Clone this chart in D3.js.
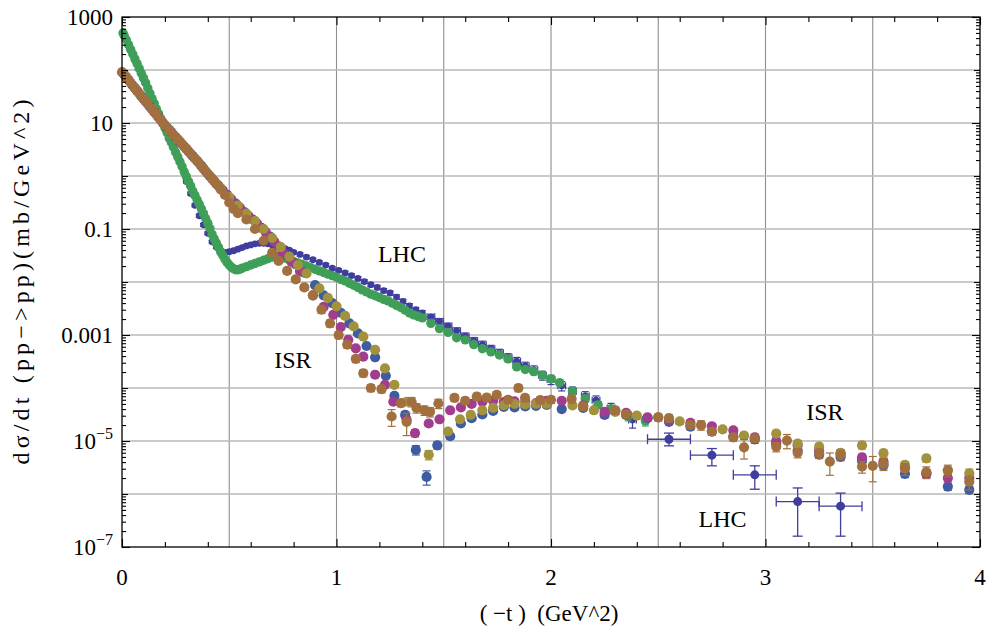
<!DOCTYPE html>
<html>
<head>
<meta charset="utf-8">
<script src="https://cdn.jsdelivr.net/npm/d3@7"></script>
<style>
  body { margin: 0; background: #fff; }
  svg { display: block; }
  text { font-family: "Liberation Serif", "Times New Roman", serif; fill: #000; }
</style>
</head>
<body>
<svg id="chart" width="987" height="628"></svg>
<script>
// ---- axes ----
const X_DOMAIN = [0, 4];
const Y_DOMAIN = [1e-7, 1e3];
const X_MAJOR = [0, 1, 2, 3, 4];
const X_LABELS = ["0", "1", "2", "3", "4"];
const X_MINOR = [0.2, 0.4, 0.6, 0.8, 1.2, 1.4, 1.6, 1.8, 2.2, 2.4, 2.6, 2.8, 3.2, 3.4, 3.6, 3.8];
const X_GRID = [0.5, 1, 1.5, 2, 2.5, 3, 3.5];
const Y_MAJOR = [1e3, 10, 0.1, 1e-3, 1e-5, 1e-7];
const Y_LABELS = [["1000"], ["10"], ["0.1"], ["0.001"], ["10", "\u22125"], ["10", "\u22127"]];
const Y_DECADES = [1e-6, 1e-4, 1e-2, 1, 100];
const Y_GRID = [1e-6, 1e-5, 1e-4, 1e-3, 1e-2, 0.1, 1, 10, 100];
const X_TITLE = "( \u2212t )  (GeV^2)";
const Y_TITLE = "d\u03c3/dt (pp\u2212>pp)(mb/GeV^2)";

// ---- LHC (TOTEM) : [ -t , dσ/dt , relative error ] ----
const LHC_GREEN = [
  [0.005,500],[0.01,447],[0.02,372],[0.03,302],[0.04,245],[0.05,200],[0.06,162],[0.07,132],[0.08,107],[0.09,87],
  [0.10,71],[0.11,57.5],[0.12,45.7],[0.13,36.3],[0.14,28.8],[0.15,23.4],[0.16,18.6],[0.17,15.1],[0.18,12.3],[0.19,10.0],
  [0.20,8.1],[0.21,6.6],[0.22,5.2],[0.23,4.3],[0.24,3.5],[0.25,2.8],[0.26,2.3],[0.27,1.86],[0.28,1.51],[0.29,1.20],
  [0.30,0.98],[0.31,0.79],[0.32,0.65],[0.33,0.52],[0.34,0.43],[0.35,0.355],[0.36,0.295],[0.37,0.24],[0.38,0.195],[0.39,0.158],
  [0.40,0.129],[0.41,0.102],[0.42,0.079],[0.43,0.065],[0.44,0.054],[0.45,0.045],[0.46,0.037],[0.47,0.0316],[0.48,0.0269],[0.49,0.0234],
  [0.50,0.0209],[0.51,0.0191],[0.52,0.0178],[0.53,0.0170],[0.54,0.0170],[0.55,0.0174],[0.56,0.0182],[0.58,0.0195],[0.60,0.0209],[0.62,0.0224],
  [0.64,0.024],[0.66,0.0257],[0.68,0.0275],[0.70,0.0295],[0.72,0.0309],[0.74,0.0302],[0.76,0.0282],[0.78,0.0263],[0.80,0.0245],[0.82,0.0229],
  [0.84,0.0214],[0.86,0.020],[0.88,0.0186],[0.90,0.0174],[0.92,0.0162],[0.94,0.0151],[0.96,0.0141],[0.98,0.0132],[1.00,0.0123],[1.02,0.0112],
  [1.04,0.0105],[1.06,0.0095],[1.08,0.0087],[1.10,0.0079],[1.12,0.0071],[1.14,0.0065],[1.16,0.0059],[1.18,0.0055],[1.20,0.0051],[1.22,0.0047],
  [1.24,0.0044],[1.26,0.0040],[1.28,0.0036],[1.30,0.0033],[1.32,0.00295],[1.34,0.0026],[1.36,0.0024],[1.38,0.00224],[1.40,0.0021],[1.44,0.00166],
  [1.48,0.00132],[1.52,0.00112],[1.56,8.9e-4],[1.60,8.1e-4],[1.64,6.6e-4],[1.68,5.5e-4],[1.72,4.8e-4],[1.76,4.2e-4],[1.80,3.55e-4],[1.84,2.5e-4],
  [1.88,2.24e-4],[1.92,2.04e-4],[1.96,1.74e-4],[2.00,1.48e-4,0.1],[2.04,1.26e-4,0.1],[2.10,8.7e-5,0.12],[2.16,6.3e-5,0.15],[2.22,4.8e-5,0.15],
  [2.28,4.0e-5,0.18],[2.36,3.0e-5,0.2],[2.44,2.4e-5,0.2]
];
const LHC_BLUE = [
  [0.30,0.79,0.06],[0.32,0.47,0.06],[0.34,0.28,0.06],[0.36,0.178,0.06],[0.38,0.120,0.06],[0.40,0.083,0.06],[0.42,0.0575,0.06],[0.44,0.0457,0.06],
  [0.46,0.0389,0.06],[0.48,0.0363,0.06],[0.50,0.0372,0.06],[0.52,0.0389,0.06],[0.54,0.0417,0.06],[0.56,0.0447,0.06],[0.58,0.0479,0.06],
  [0.60,0.050,0.06],[0.62,0.0525,0.06],[0.64,0.0537,0.06],[0.66,0.0537,0.06],[0.68,0.0525,0.06],[0.70,0.050,0.06],[0.72,0.0479,0.06],
  [0.74,0.0447,0.06],[0.76,0.0427,0.06],[0.78,0.0398,0.06],[0.80,0.0363,0.07],[0.83,0.0331,0.07],[0.86,0.0295,0.07],[0.89,0.0263,0.07],
  [0.92,0.0234,0.07],[0.95,0.0209,0.07],[0.98,0.0182,0.07],[1.01,0.0166,0.07],[1.04,0.0148,0.08],[1.07,0.0132,0.08],[1.10,0.0117,0.08],
  [1.13,0.0102,0.08],[1.16,0.0089,0.08],[1.19,0.0079,0.09],[1.22,0.0069,0.09],[1.25,0.0062,0.09],[1.28,0.0052,0.1],[1.31,0.0043,0.1],
  [1.34,0.00355,0.1],[1.37,0.0030,0.1],[1.40,0.0026,0.11],[1.44,0.0022,0.12],[1.48,0.00182,0.12],[1.52,0.00148,0.13],[1.56,0.0012,0.14],
  [1.60,9.5e-4,0.15],[1.64,7.8e-4,0.15],[1.68,6.6e-4,0.16],[1.72,5.5e-4,0.16],[1.76,4.6e-4,0.17],[1.80,3.8e-4,0.17],[1.84,3.2e-4,0.18],
  [1.88,2.6e-4,0.18],[1.92,2.2e-4,0.19],[1.96,1.74e-4,0.19],[2.00,1.45e-4,0.2],[2.05,1.1e-4,0.2],[2.10,8.7e-5,0.2],[2.16,7.1e-5,0.2],
  [2.21,5.9e-5,0.2],[2.28,4.2e-5,0.22],[2.38,2.5e-5,0.3]
];
// large |t| points with bin widths: [ -t , dσ/dt , low , high , half bin ]
const LHC_TAIL = [
  [2.55,1.08e-5,8.1e-6,1.41e-5,0.1],
  [2.75,5.4e-6,3.4e-6,7.2e-6,0.1],
  [2.95,2.3e-6,1.23e-6,3.4e-6,0.1],
  [3.15,7.2e-7,1.6e-7,1.3e-6,0.1],
  [3.35,5.9e-7,1.6e-7,1.04e-6,0.1]
];

// ---- ISR energies : [ -t , dσ/dt , relative error ] ----
const ISR_BLUE = [
  [0.01,83],[0.05,51],[0.09,32],[0.13,20.4],[0.17,12.9],[0.21,8.2],[0.25,5.4],[0.29,3.6],[0.33,2.37],[0.37,1.55],
  [0.41,0.99],[0.45,0.653],[0.49,0.44],[0.53,0.30],[0.57,0.209],[0.61,0.150],[0.65,0.105],[0.69,0.0716],[0.73,0.0473],[0.77,0.0313],
  [0.81,0.0216],[0.85,0.0150],[0.90,0.0087],[0.94,0.0056],[0.98,0.00398],[1.02,0.00263],[1.06,0.00166],[1.10,0.00107],[1.14,6.2e-4],
  [1.18,3.8e-4],[1.23,1.7e-4],[1.27,7.1e-5,0.1],[1.32,3.1e-5,0.15],[1.37,6.8e-6,0.2],[1.42,2.1e-6,0.3],[1.47,8.3e-6,0.15],
  [1.53,1.23e-5,0.12],[1.58,2.14e-5,0.1],[1.63,2.7e-5,0.1],[1.68,3.16e-5,0.1],[1.73,3.7e-5,0.1],[1.78,4.4e-5,0.1],[1.83,4.3e-5,0.1],
  [1.88,4.5e-5,0.1],[1.93,4.6e-5,0.1],[1.98,4.8e-5,0.1],[2.05,4.0e-5,0.1],[2.15,4.2e-5,0.1],[2.25,3.1e-5,0.12],[2.35,3.1e-5,0.12],
  [2.45,2.7e-5,0.12],[2.55,2.3e-5,0.12],[2.65,1.86e-5,0.12],[2.75,1.51e-5,0.12],[2.85,1.23e-5,0.12],[2.95,1.07e-5,0.15],
  [3.05,8.9e-6,0.15],[3.15,6.6e-6,0.15],[3.25,5.5e-6,0.15],[3.35,5.0e-6,0.15],[3.45,4.2e-6,0.15],[3.55,3.5e-6,0.15],
  [3.65,2.4e-6,0.15],[3.75,2.4e-6,0.15],[3.85,1.38e-6,0.15],[3.95,1.2e-6,0.15]
];
const ISR_MAGENTA = [
  [0.03,65],[0.07,40.7],[0.11,25.7],[0.15,16.2],[0.19,10.2],[0.23,6.7],[0.27,4.4],[0.31,2.92],[0.35,1.93],[0.39,1.23],
  [0.43,0.80],[0.47,0.537],[0.51,0.363],[0.55,0.251],[0.59,0.176],[0.63,0.126],[0.67,0.087],[0.71,0.058],[0.75,0.0355],[0.79,0.024],
  [0.83,0.0158],[0.89,0.0056],[0.94,0.0034],[0.985,0.0024],[1.02,0.00141],[1.055,8.1e-4],[1.09,5.6e-4],[1.125,3.9e-4],[1.18,1.78e-4],
  [1.226,1.15e-4],[1.265,5.5e-5,0.1],[1.327,2.5e-5,0.12],[1.366,1.41e-5,0.15],[1.43,2.14e-5,0.12],[1.48,2.57e-5,0.1],[1.53,3.8e-5,0.1],
  [1.58,4.3e-5,0.1],[1.63,5.0e-5,0.1],[1.68,5.5e-5,0.1],[1.73,5.75e-5,0.1],[1.78,5.4e-5,0.1],[1.83,5.6e-5,0.1],[1.88,5.5e-5,0.1],
  [1.93,5.2e-5,0.1],[1.98,5.75e-5,0.1],[2.05,5.75e-5,0.1],[2.15,4.7e-5,0.1],[2.25,3.55e-5,0.12],[2.35,3.4e-5,0.12],[2.45,2.8e-5,0.12],
  [2.55,2.5e-5,0.12],[2.65,2.2e-5,0.12],[2.75,1.9e-5,0.12],[2.85,1.58e-5,0.12],[2.95,1.17e-5,0.15],[3.05,1.0e-5,0.15],
  [3.15,8.3e-6,0.15],[3.25,6.6e-6,0.15],[3.35,5.9e-6,0.15],[3.45,4.9e-6,0.15],[3.55,4.1e-6,0.15],[3.65,3.3e-6,0.15],
  [3.75,2.45e-6,0.15],[3.85,2.0e-6,0.15],[3.95,2.0e-6,0.15]
];
const ISR_OLIVE = [
  [0.02,74],[0.06,45.7],[0.10,28.8],[0.14,18.2],[0.18,11.5],[0.22,7.4],[0.26,4.9],[0.30,3.24],[0.34,2.14],[0.38,1.38],
  [0.42,0.89],[0.46,0.59],[0.50,0.40],[0.54,0.275],[0.58,0.195],[0.62,0.141],[0.66,0.10],[0.70,0.0676],[0.74,0.0457],[0.78,0.0302],
  [0.82,0.0209],[0.86,0.0145],[0.92,0.0076],[0.96,0.0050],[1.00,0.00347],[1.04,0.00229],[1.08,0.00145],[1.125,9.3e-4],[1.18,5.25e-4],
  [1.226,2.34e-4],[1.27,1.15e-4,0.1],[1.327,5.5e-5,0.12],[1.43,5.5e-6,0.2],[1.52,1.51e-5,0.12],[1.576,2.57e-5,0.1],[1.626,3.1e-5,0.1],
  [1.68,3.8e-5,0.1],[1.73,4.2e-5,0.1],[1.78,4.7e-5,0.1],[1.83,5.0e-5,0.1],[1.88,4.9e-5,0.1],[1.93,5.0e-5,0.1],[1.98,5.0e-5,0.1],
  [2.10,4.7e-5,0.1],[2.20,3.8e-5,0.12],[2.30,3.55e-5,0.12],[2.40,3.0e-5,0.12],[2.50,2.8e-5,0.12],[2.60,2.34e-5,0.12],[2.70,2.0e-5,0.12],
  [2.80,1.66e-5,0.12],[2.90,1.26e-5,0.15],[3.05,1.38e-5,0.15],[3.15,8.9e-6,0.15],[3.25,7.8e-6,0.15],[3.35,6.0e-6,0.15],
  [3.45,8.3e-6,0.15],[3.55,5.9e-6,0.15],[3.65,3.55e-6,0.15],[3.75,4.7e-6,0.15],[3.85,2.8e-6,0.15],[3.95,2.45e-6,0.2]
];
const ISR_BROWN = [
  [0.00,91],[0.02,72],[0.04,57.5],[0.06,45.7],[0.08,36.3],[0.10,28.8],[0.12,22.9],[0.14,18.2],[0.16,14.5],[0.18,11.5],
  [0.20,9.1],[0.22,7.4],[0.24,6.0],[0.26,4.9],[0.28,4.0],[0.30,3.24],[0.32,2.63],[0.34,2.14],[0.36,1.74],[0.38,1.38],
  [0.40,1.10],[0.42,0.89],[0.44,0.71],[0.46,0.56],[0.48,0.44],[0.50,0.316],[0.52,0.24],[0.54,0.20],[0.58,0.151],[0.62,0.10],
  [0.66,0.060],[0.70,0.0355],[0.73,0.0251,0.1],[0.77,0.0162,0.12],[0.81,0.0112,0.12],[0.85,0.0079,0.12],[0.89,0.0056,0.12],
  [0.93,0.0030,0.15],[0.97,0.00166,0.15],[1.01,0.0010,0.15],[1.05,6.6e-4,0.15],[1.09,3.55e-4,0.15],[1.125,1.9e-4,0.15],
  [1.16,1.0e-4,0.15],[1.21,9.5e-5,0.15],[1.257,2.9e-5,0.35],[1.30,5.2e-5,0.15],[1.327,2.3e-5,0.45],[1.35,5.5e-5,0.2],
  [1.373,4.2e-5,0.2],[1.41,3.8e-5,0.2],[1.436,3.55e-5,0.2],[1.475,5.1e-5,0.2],[1.55,6.5e-5,0.15],[1.60,5.75e-5,0.15],
  [1.654,6.9e-5,0.15],[1.70,6.6e-5,0.15],[1.747,7.4e-5,0.15],[1.80,6.0e-5,0.15],[1.848,1.0e-4,0.15],[1.879,6.5e-5,0.15],
  [1.95,5.9e-5,0.15],[2.00,6.0e-5,0.15],[2.096,6.2e-5,0.15],[2.15,4.5e-5,0.15],[2.30,3.8e-5,0.15],[2.35,3.2e-5,0.15],
  [2.50,2.8e-5,0.15],[2.55,2.7e-5,0.15],[2.65,2.0e-5,0.15],[2.70,2.0e-5,0.2],[2.75,1.5e-5,0.15],[2.85,1.17e-5,0.15],
  [2.90,7.6e-6,0.4],[2.95,1.12e-5,0.15],[3.05,7.8e-6,0.2],[3.10,1.02e-5,0.3],[3.15,6.0e-6,0.2],[3.25,5.9e-6,0.2],
  [3.30,4.1e-6,0.45],[3.35,5.5e-6,0.2],[3.45,3.3e-6,0.25],[3.50,3.4e-6,0.5],[3.55,3.7e-6,0.25],[3.65,3.0e-6,0.25],
  [3.75,2.6e-6,0.25],[3.85,2.8e-6,0.25],[3.95,1.7e-6,0.3]
];

const ANNOTATIONS = [
  { text: "LHC", t: 1.305, v: 0.0238 },
  { text: "ISR", t: 0.797, v: 2.38e-4 },
  { text: "ISR", t: 3.277, v: 2.5e-5 },
  { text: "LHC", t: 2.80,  v: 2.38e-7 }
];

// ---- layout ----
const svg = d3.select("#chart");
const L = 122, R = 980, T = 17, B = 547;
const x = d3.scaleLinear().domain(X_DOMAIN).range([L, R]);
const y = d3.scaleLog().domain(Y_DOMAIN).range([B, T]);

const COLORS = {
  lhcBlue: "#3f3d9e",
  lhcGreen: "#3f9f58",
  isrBlue: "#3e5ca2",
  isrMagenta: "#a23c8e",
  isrOlive: "#a2923e",
  isrBrown: "#a2703e"
};

// grid
const grid = svg.append("g");
grid.selectAll(".gx").data(X_GRID).join("line")
  .attr("x1", d => x(d)).attr("x2", d => x(d)).attr("y1", T).attr("y2", B)
  .attr("stroke", "#8e8e8e").attr("stroke-width", 1.1);
grid.selectAll(".gy").data(Y_GRID).join("line")
  .attr("x1", L).attr("x2", R).attr("y1", d => y(d)).attr("y2", d => y(d))
  .attr("stroke", "#b8b8b8").attr("stroke-width", 1.4);

// data
const plot = svg.append("g");

function drawSeries(data, color, r, capHalf, xerr) {
  const g = plot.append("g");
  const withErr = data.filter(d => d[2] !== undefined);
  g.selectAll(".ev").data(withErr).join("line")
    .attr("x1", d => x(d[0])).attr("x2", d => x(d[0]))
    .attr("y1", d => y(d[1] * (1 + d[2]))).attr("y2", d => y(Math.max(d[1] * (1 - d[2]), 1e-9)))
    .attr("stroke", color).attr("stroke-width", 1.2);
  g.selectAll(".ct").data(withErr).join("line")
    .attr("x1", d => x(d[0]) - capHalf).attr("x2", d => x(d[0]) + capHalf)
    .attr("y1", d => y(d[1] * (1 + d[2]))).attr("y2", d => y(d[1] * (1 + d[2])))
    .attr("stroke", color).attr("stroke-width", 1.2);
  g.selectAll(".cb").data(withErr).join("line")
    .attr("x1", d => x(d[0]) - capHalf).attr("x2", d => x(d[0]) + capHalf)
    .attr("y1", d => y(d[1] * (1 - d[2]))).attr("y2", d => y(d[1] * (1 - d[2])))
    .attr("stroke", color).attr("stroke-width", 1.2);
  if (xerr) {
    const we = withErr.filter(d => d[0] > 1.4);
    g.selectAll(".eh").data(we).join("line")
      .attr("x1", d => x(d[0] - xerr)).attr("x2", d => x(d[0] + xerr))
      .attr("y1", d => y(d[1])).attr("y2", d => y(d[1]))
      .attr("stroke", color).attr("stroke-width", 1.2);
    g.selectAll(".chl").data(we).join("line")
      .attr("x1", d => x(d[0] - xerr)).attr("x2", d => x(d[0] - xerr))
      .attr("y1", d => y(d[1]) - capHalf).attr("y2", d => y(d[1]) + capHalf)
      .attr("stroke", color).attr("stroke-width", 1.2);
    g.selectAll(".chr").data(we).join("line")
      .attr("x1", d => x(d[0] + xerr)).attr("x2", d => x(d[0] + xerr))
      .attr("y1", d => y(d[1]) - capHalf).attr("y2", d => y(d[1]) + capHalf)
      .attr("stroke", color).attr("stroke-width", 1.2);
  }
  g.selectAll("circle").data(data).join("circle")
    .attr("cx", d => x(d[0])).attr("cy", d => y(d[1])).attr("r", r)
    .attr("fill", color);
}

drawSeries(LHC_BLUE, COLORS.lhcBlue, 3.4, 3.5, 0.018);
drawSeries(LHC_GREEN, COLORS.lhcGreen, 4.7, 3.5, 0.015);
drawSeries(ISR_BLUE, COLORS.isrBlue, 5.1, 4);
drawSeries(ISR_MAGENTA, COLORS.isrMagenta, 5.1, 4);
drawSeries(ISR_OLIVE, COLORS.isrOlive, 5.1, 4);
drawSeries(ISR_BROWN, COLORS.isrBrown, 5.1, 4);

// large |t| LHC points with horizontal bins
const tail = plot.append("g").attr("stroke", COLORS.lhcBlue).attr("stroke-width", 1.3);
tail.selectAll(".v").data(LHC_TAIL).join("line")
  .attr("x1", d => x(d[0])).attr("x2", d => x(d[0])).attr("y1", d => y(d[3])).attr("y2", d => y(d[2]));
tail.selectAll(".h").data(LHC_TAIL).join("line")
  .attr("x1", d => x(d[0] - d[4])).attr("x2", d => x(d[0] + d[4])).attr("y1", d => y(d[1])).attr("y2", d => y(d[1]));
[2, 3].forEach(k => {
  tail.selectAll(".c" + k).data(LHC_TAIL).join("line")
    .attr("x1", d => x(d[0]) - 5).attr("x2", d => x(d[0]) + 5).attr("y1", d => y(d[k])).attr("y2", d => y(d[k]));
});
[-1, 1].forEach(s => {
  tail.selectAll(".s" + (s + 1)).data(LHC_TAIL).join("line")
    .attr("x1", d => x(d[0] + s * d[4])).attr("x2", d => x(d[0] + s * d[4]))
    .attr("y1", d => y(d[1]) - 5).attr("y2", d => y(d[1]) + 5);
});
plot.append("g").selectAll("circle").data(LHC_TAIL).join("circle")
  .attr("cx", d => x(d[0])).attr("cy", d => y(d[1])).attr("r", 4.5).attr("fill", COLORS.lhcBlue);

// axes: ticks on all four sides
function tickAxis(gen, tx, ty, size, vals) {
  const g = svg.append("g").attr("transform", `translate(${tx},${ty})`)
    .call(gen.tickValues(vals).tickSizeInner(size).tickSizeOuter(0).tickFormat(""));
  g.select(".domain").remove();
  g.selectAll(".tick line").attr("stroke", "#000").attr("stroke-width", 1.1);
  return g;
}
const yMinor = [];
d3.range(-7, 3).forEach(e => d3.range(2, 10).forEach(m => yMinor.push(m * Math.pow(10, e))));

tickAxis(d3.axisBottom(x), 0, B, -8, X_MAJOR);
tickAxis(d3.axisBottom(x), 0, B, -5, X_MINOR);
tickAxis(d3.axisTop(x), 0, T, -8, X_MAJOR);
tickAxis(d3.axisTop(x), 0, T, -5, X_MINOR);
tickAxis(d3.axisLeft(y), L, 0, -8, Y_MAJOR);
tickAxis(d3.axisLeft(y), L, 0, -6, Y_DECADES);
tickAxis(d3.axisLeft(y), L, 0, -4, yMinor);
tickAxis(d3.axisRight(y), R, 0, -8, Y_MAJOR);
tickAxis(d3.axisRight(y), R, 0, -6, Y_DECADES);
tickAxis(d3.axisRight(y), R, 0, -4, yMinor);

// frame
svg.append("rect").attr("x", L).attr("y", T).attr("width", R - L).attr("height", B - T)
  .attr("fill", "none").attr("stroke", "#000").attr("stroke-width", 1.3);

// tick labels
svg.append("g").selectAll("text").data(X_MAJOR).join("text")
  .attr("x", d => x(d)).attr("y", B + 38).attr("text-anchor", "middle")
  .attr("font-size", 23).text((d, i) => X_LABELS[i]);

const yl = svg.append("g").selectAll("text").data(Y_MAJOR).join("text")
  .attr("x", L - 9).attr("y", d => y(d) + 8).attr("text-anchor", "end").attr("font-size", 23);
yl.each(function(d, i) {
  const parts = Y_LABELS[i];
  const t = d3.select(this);
  t.append("tspan").text(parts[0]);
  if (parts[1]) t.append("tspan").attr("font-size", 16).attr("dy", -10).text(parts[1]);
});

// titles
svg.append("text").attr("x", 549).attr("y", 621).attr("text-anchor", "middle")
  .attr("font-size", 23).attr("xml:space", "preserve").style("white-space", "pre")
  .text(X_TITLE);
svg.append("text").attr("transform", `translate(29,${(T + B) / 2}) rotate(-90)`)
  .attr("text-anchor", "middle").attr("font-size", 24)
  .attr("textLength", 365).attr("lengthAdjust", "spacing").text(Y_TITLE);

// annotations
svg.append("g").selectAll("text").data(ANNOTATIONS).join("text")
  .attr("x", d => x(d.t)).attr("y", d => y(d.v)).attr("text-anchor", "middle")
  .attr("font-size", 24).text(d => d.text);
</script>
</body>
</html>
